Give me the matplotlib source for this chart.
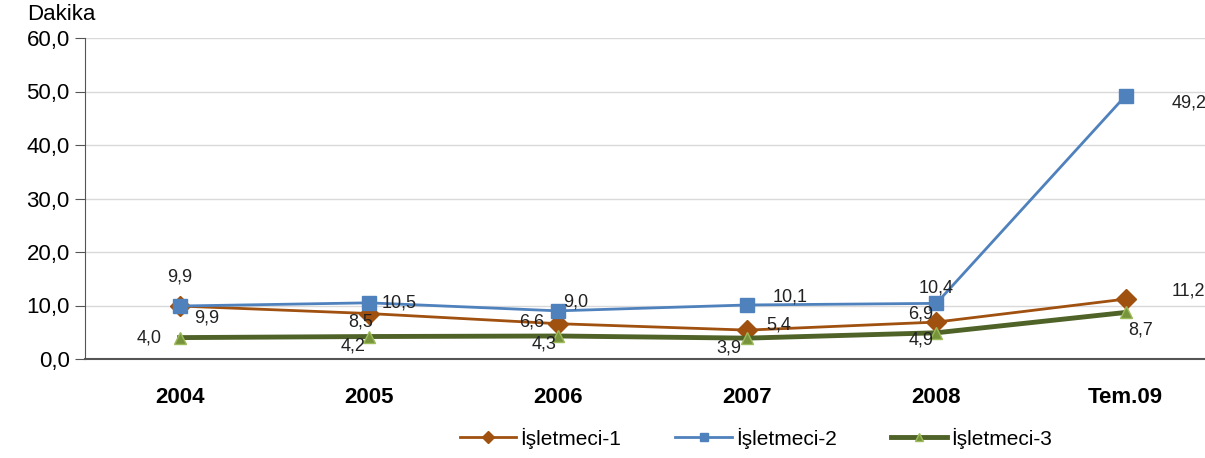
import matplotlib.pyplot as plt

plt.rcParams['font.family'] = ['Liberation Sans', 'DejaVu Sans']

years = ['2004', '2005', '2006', '2007', '2008', 'Tem.09']
isl1 = [9.9, 8.5, 6.6, 5.4, 6.9, 11.2]
isl2 = [9.9, 10.5, 9.0, 10.1, 10.4, 49.2]
isl3 = [4.0, 4.2, 4.3, 3.9, 4.9, 8.7]

# label offsets in pixels (dx right, dy up)
off1 = [(27, -12), (-8, -8), (-26, 2), (32, 5), (-16, 8), (63, 8)]
off2 = [(0, 29), (30, 0), (18, 9), (43, 8), (0, 15), (64, -7)]
off3 = [(-30, 0), (-16, -9), (-14, -8), (-18, -10), (-15, -7), (15, -18)]

fig = plt.figure(figsize=(12.05, 4.58), dpi=100)
ax = fig.add_axes([85 / 1205, 1 - 359 / 458, 1 - 85 / 1205, 321 / 458])

x = list(range(len(years)))
ax.plot(x, isl1, color='#A0500F', lw=2, marker='D', ms=10,
        mfc='#A0500F', mec='#A0500F', label='İşletmeci-1', zorder=3)
ax.plot(x, isl2, color='#4F81BD', lw=2, marker='s', ms=10,
        mfc='#4F81BD', mec='#4F81BD', label='İşletmeci-2', zorder=4)
ax.plot(x, isl3, color='#4F6228', lw=3.5, marker='^', ms=9,
        mfc='#77933C', mec='#9BBB59', label='İşletmeci-3', zorder=3)

pt = 72 / 100
for vals, offs in [(isl1, off1), (isl2, off2), (isl3, off3)]:
    for i, v in enumerate(vals):
        dx, dy = offs[i]
        ax.annotate('{:.1f}'.format(v).replace('.', ','), (i, v),
                    xytext=(dx * pt, dy * pt), textcoords='offset points',
                    ha='center', va='center', fontsize=13, color='#222222',
                    zorder=5)

ax.set_xlim(-0.5, 5.42)
ax.set_ylim(0, 60)
ax.set_yticks(range(0, 61, 10))
ax.set_yticklabels(['{:.1f}'.format(t).replace('.', ',') for t in range(0, 61, 10)],
                   fontsize=16)
ax.set_xticks(x)
ax.set_xticklabels(years, fontsize=16, fontweight='bold')
ax.tick_params(axis='x', length=0, pad=20)
ax.tick_params(axis='y', length=7, color='#555555', pad=4)
ax.grid(axis='y', color='#D9D9D9', lw=1)
ax.set_axisbelow(True)
for s in ['top', 'right']:
    ax.spines[s].set_visible(False)
ax.spines['left'].set_color('#555555')
ax.spines['bottom'].set_color('#555555')
ax.spines['bottom'].set_linewidth(1.5)

fig.text(27 / 1205, 1 - 14 / 458, 'Dakika', fontsize=16, va='center', ha='left')

leg = ax.legend(loc='center', bbox_to_anchor=(756 / 1205, 1 - 438 / 458),
                bbox_transform=fig.transFigure, ncol=3, frameon=False,
                fontsize=15, markerscale=0.6, handlelength=2.7,
                handletextpad=0.2, columnspacing=2.6)

plt.savefig('out.png', dpi=100)
